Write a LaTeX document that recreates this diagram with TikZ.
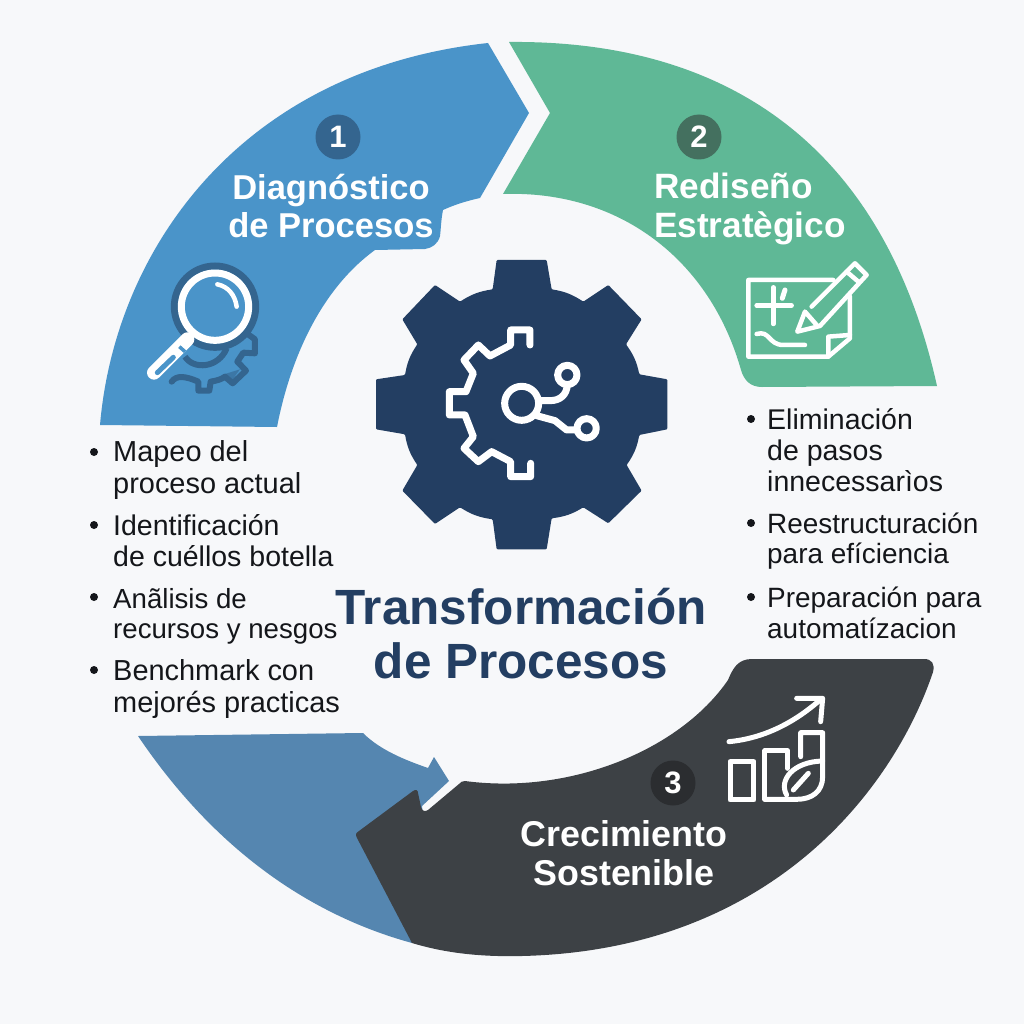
\documentclass[tikz,border=0pt]{standalone}
\usepackage{fontspec}
\usepackage{tikz}
\setmainfont{Liberation Sans}
\definecolor{pagebg}{HTML}{F7F8FA}
\definecolor{bluearc}{HTML}{4A94C9}
\definecolor{bluelow}{HTML}{5586B0}
\definecolor{greenarc}{HTML}{5FB896}
\definecolor{darkarc}{HTML}{3D4145}
\definecolor{navy}{HTML}{233E62}
\definecolor{bluebadge}{HTML}{34658F}
\definecolor{greenbadge}{HTML}{44705F}
\definecolor{darkbadge}{HTML}{2B2D30}
\definecolor{inktext}{HTML}{14161A}

\begin{document}
\begin{tikzpicture}[x=1pt,y=-1pt]
        \tikzstyle{badge} = [circle, inner sep=0pt, minimum size=45pt, text=white, font=\bfseries\fontsize{31}{31}\selectfont]
        \tikzstyle{stage} = [text=white, align=center, inner sep=0pt, font=\bfseries\fontsize{33.5}{37}\selectfont]
        \tikzstyle{item} = [anchor=west, align=left, inner sep=0pt, text=inktext, font=\fontsize{28.5}{31}\selectfont]
        \tikzstyle{title} = [text=navy, align=center, inner sep=0pt, font=\bfseries\fontsize{49.5}{54}\selectfont]
        \tikzstyle{iconline} = [white, line width=4.5pt, line cap=round, line join=round]

        \fill[pagebg] (0,0) rectangle (1024,1024);
        \useasboundingbox (0,0) rectangle (1024,1024);

        % ring segments
        \fill[bluearc] (100,425) .. controls (115,250) and (240,70) .. (488,43) -- (529,113) -- (480,198)
            .. controls (462,202) and (452,206) .. (443,210) .. controls (441,220) and (441,228) .. (440,236)
            .. controls (438,244) and (432,248) .. (425,249) -- (375,250)
            .. controls (320,290) and (290,360) .. (277,427) -- cycle;
        \fill[greenarc] (509,42) .. controls (710,40) and (880,130) .. (937,386) -- (762,387)
            .. controls (750,387) and (744,380) .. (741,370)
            .. controls (710,260) and (620,190) .. (503,194) -- (550,113) -- cycle;
        \fill[bluelow] (138,736) -- (363,733) .. controls (380,750) and (405,760) .. (428,768) -- (434,757)
            -- (449,781) -- (422,806) -- (430,880) -- (412,943)
            .. controls (310,915) and (215,850) .. (138,736) -- cycle;
        \fill[darkarc] (752,659) -- (924,659) .. controls (932,659) and (935,664) .. (933,672)
            .. controls (895,785) and (775,950) .. (522,956) .. controls (480,957) and (445,953) .. (412,943)
            -- (357,838) .. controls (355,834) and (356,833) .. (359,831) -- (413,791)
            .. controls (416,789) and (418,790) .. (418,793) -- (421,807) .. controls (422,811) and (425,812) .. (428,810)
            -- (459,784) .. controls (461,782) and (462,781) .. (465,781)
            .. controls (570,795) and (680,750) .. (728,680) .. controls (733,668) and (738,659) .. (752,659) -- cycle;

        % central gear
        \begin{scope}[shift={(360,250)},scale=.3333]
            \fill[navy, rounded corners=1pt] (410,30) -- (560,30) -- (575,118) to[bend left=12] (670,155)
                -- (745,105) -- (845,208) -- (798,283) to[bend left=12] (838,373)
                -- (922,388) -- (922,538) -- (838,555) to[bend left=12] (800,645)
                -- (845,722) -- (745,820) -- (670,772) to[bend left=12] (575,805)
                -- (560,898) -- (410,898) -- (398,808) to[bend left=12] (300,772)
                -- (225,822) -- (127,722) -- (172,645) to[bend left=12] (135,553)
                -- (48,538) -- (48,388) -- (135,375) to[bend left=12] (172,283)
                -- (127,208) -- (225,105) -- (300,155) to[bend left=12] (398,118) -- cycle;
            \draw[iconline, line width=7pt] (510,285) -- (510,240) -- (452,240) -- (452,285) -- (390,318)
                -- (355,285) -- (312,330) -- (340,370) -- (318,425) -- (268,425) -- (268,495) -- (315,495)
                -- (340,560) -- (312,595) -- (355,635) -- (395,605) -- (452,635) -- (452,680) -- (512,680) -- (512,640);
            \draw[iconline, line width=7pt] (485,460) circle (51);
            \draw[iconline, line width=7pt] (622,375) circle (29);
            \draw[iconline, line width=7pt] (680,535) circle (29);
            \draw[iconline, line width=7pt] (536,452) -- (570,452) .. controls (600,452) and (620,435) .. (622,405);
            \draw[iconline, line width=7pt] (530,497) -- (585,512) -- (620,540) -- (650,540);
        \end{scope}

        % magnifier with small gear
        \begin{scope}[shift={(130,250)},scale=.3333]
            \fill[bluebadge, opacity=.6] (285,372) -- (330,358) -- (305,392) -- cycle;
            \draw[bluebadge, line width=6pt, line cap=round, line join=round] (125,395) .. controls (140,375) and (165,378) .. (205,395)
                -- (205,422) -- (238,422) -- (242,395) .. controls (260,392) and (275,388) .. (285,380) -- (308,400) -- (348,362) -- (322,335)
                -- (340,308) -- (375,310) -- (375,268) -- (350,250);
            \draw[bluebadge, line width=6pt] (165,320) .. controls (190,360) and (265,355) .. (290,295);
            \draw[bluebadge, line width=7pt] (255,170) circle (122);
            \draw[iconline, line width=7pt] (255,170) circle (101);
            \draw[iconline] (262,103) .. controls (295,110) and (315,135) .. (320,170);
            \draw[white, line width=14pt, line cap=round] (172,268) -- (72,368);
            \draw[bluearc, line width=5pt, line cap=round] (130,322) -- (82,368);
            \draw[bluearc, line width=3.5pt] (148,290) -- (165,305);
        \end{scope}

        % note and pencil
        \begin{scope}[shift={(500,30)},scale=.3333]
            \draw[iconline] (1000,750) -- (745,750) -- (745,980) -- (985,980) -- (1050,925) -- (1050,800);
            \draw[iconline] (985,980) -- (985,920) -- (1050,915);
            \draw[iconline] (770,827) -- (875,827);
            \draw[iconline] (820,772) -- (820,882);
            \draw[iconline, line width=5pt] (855,780) -- (847,805);
            \draw[iconline] (770,912) .. controls (810,900) and (805,945) .. (850,945) -- (915,945);
            \draw[iconline] (935,830) -- (1065,700) -- (1100,735) -- (960,888) -- (892,905) -- (915,845) -- (950,885);
            \draw[iconline] (1040,725) -- (1075,755);
        \end{scope}

        % growth chart with leaf
        \begin{scope}[shift={(630,680)},scale=.3333]
            \draw[iconline, line width=5pt] (297,185) .. controls (400,175) and (490,130) .. (570,60);
            \draw[iconline, line width=5pt] (500,55) -- (578,55) -- (572,125);
            \draw[iconline, line width=5pt] (300,245) rectangle (372,360);
            \draw[iconline, line width=5pt] (405,358) -- (405,212) -- (472,212) -- (472,265);
            \draw[iconline, line width=5pt] (512,230) -- (512,158) -- (578,158) -- (578,290)
                .. controls (578,335) and (545,358) .. (500,358) -- (405,358);
            \draw[iconline, line width=5pt] (470,345) .. controls (445,300) and (490,245) .. (578,243);
            \draw[iconline, line width=5pt] (490,330) -- (535,280);
        \end{scope}

        % numbers and stage names
        \node[badge, fill=bluebadge] (num1) at (338,137) {1};
        \node[badge, fill=greenbadge] (num2) at (699,137) {2};
        \node[badge, fill=darkbadge] (num3) at (673,783) {3};
        \node[stage, scale=1.03] (diag) at (331,206) {Diagnóstico\\de Procesos};
        \node[stage, scale=1.05, align=left, anchor=west] (redis) at (654,209) {Rediseño\\Estratègico};
        \node[stage, scale=1.07] (crec) at (624,853) {Crecimiento\\Sostenible};

        \node[title] (trans) at (521,634) {Transformación\\de Procesos};

        % bullet lists
        \node[item, scale=1.015] (map) at (113,470) {Mapeo del\\proceso actual};
        \node[item] (ident) at (113,541) {Identificación\\de cuéllos botella};
        \node[item, scale=.97] (anal) at (113,616) {Anãlisis de\\recursos y nesgos};
        \node[item, scale=1.015] (bench) at (113,689) {Benchmark con\\mejorés practicas};
        \node[item] (elim) at (767,450) {Eliminación\\de pasos\\innecessarìos};
        \node[item, scale=.98] (rees) at (767,541) {Reestructuración\\para efíciencia};
        \node[item, scale=.98] (prep) at (767,613) {Preparación para\\automatízacion};

        \foreach \px/\py in {94/452, 94/525, 94/597, 94/670, 751/419, 751/523, 751/597}
            \fill[inktext] (\px,\py) circle (4);
\end{tikzpicture}
\end{document}
